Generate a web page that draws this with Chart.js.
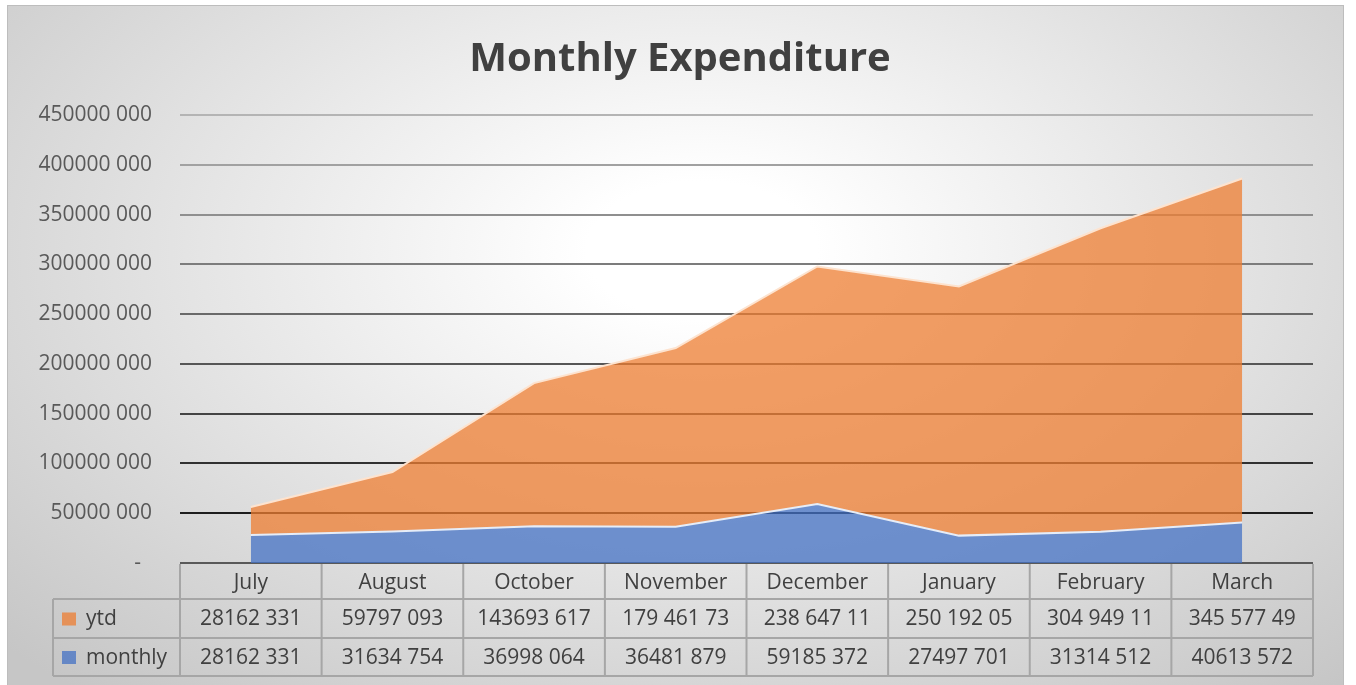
<!DOCTYPE html>
<html>
<head>
<meta charset="utf-8">
<script src="https://cdn.jsdelivr.net/npm/chart.js@4.4.1/dist/chart.umd.min.js"></script>
<style>
  html, body { margin: 0; padding: 0; background: #fff; }
  #box {
    position: absolute; left: 7px; top: 5px; width: 1337px; height: 680px;
    box-sizing: border-box; border: 1px solid #bdbdbd; border-bottom: none;
    background: radial-gradient(ellipse 72% 85% at 52% 36%, #ffffff 0%, #ffffff 12%, #c6c6c6 100%);
  }
  #box canvas { position: absolute; left: -1px; top: -1px; }
</style>
</head>
<body>
<div id="box"><canvas id="chart" width="1337" height="680"></canvas></div>
<script>
const months = ['July', 'August', 'October', 'November', 'December', 'January', 'February', 'March'];
const monthly = [28162331, 31634754, 36998064, 36481879, 59185372, 27497701, 31314512, 40613572];
const ytd = [28162331, 59797093, 143693617, 179461730, 238647110, 250192050, 304949110, 345577490];
// table text as shown (ytd cells are clipped in the original)
const ytdText = ['28162 331', '59797 093', '143693 617', '179 461 73', '238 647 11', '250 192 05', '304 949 11', '345 577 49'];
const yTicks = { min: 0, max: 450000000, step: 50000000 };

const FONT = 'Open Sans';
const ORANGE = 'rgba(237,125,49,0.75)';
const BLUE = 'rgba(68,114,196,0.75)';

function fmt(v) {
  if (v === 0) return '-  ';
  return Math.floor(v / 1000) + ' ' + String(v % 1000).padStart(3, '0');
}

function gridColor(ctx) {
  const v = ctx.tick.value;
  if (v === 0) return '#595959';
  const c = Math.round(30 + (v - 50000000) / 400000000 * 150);
  return `rgb(${c},${c},${c})`;
}

const tablePlugin = {
  id: 'dataTable',
  afterDraw(chart) {
    const { ctx } = chart;
    const x = chart.scales.x;
    const n = months.length;
    const w = (x.right - x.left) / n;
    const top = chart.chartArea.bottom;
    const r1 = top + 36, r2 = r1 + 39, r3 = r2 + 38;
    const legLeft = 46;

    ctx.save();
    ctx.strokeStyle = '#a6a6a6';
    ctx.lineWidth = 2;
    ctx.beginPath();
    for (let i = 0; i <= n; i++) {
      const px = x.left + i * w;
      ctx.moveTo(px, top + 1); ctx.lineTo(px, r3);
    }
    ctx.moveTo(legLeft, r1); ctx.lineTo(legLeft, r3);
    [r1, r2, r3].forEach((ry) => { ctx.moveTo(legLeft, ry); ctx.lineTo(x.right, ry); });
    ctx.stroke();

    ctx.font = `21px "${FONT}"`;
    ctx.fillStyle = '#404040';
    ctx.textBaseline = 'middle';
    ctx.textAlign = 'center';
    const rows = [
      { label: 'ytd', color: ORANGE, cells: ytdText, y: (r1 + r2) / 2 },
      { label: 'monthly', color: BLUE, cells: monthly.map(fmt), y: (r2 + r3) / 2 },
    ];
    rows.forEach((row) => {
      row.cells.forEach((t, i) => {
        ctx.fillText(t, x.getPixelForValue(i), row.y + 1);
      });
    });
    ctx.textAlign = 'left';
    rows.forEach((row) => {
      ctx.fillStyle = row.color;
      ctx.fillRect(55, row.y - 6, 14, 13);
      ctx.fillStyle = '#404040';
      ctx.fillText(row.label, 79, row.y + 1);
    });
    ctx.restore();
  },
};

new Chart(document.getElementById('chart'), {
  type: 'line',
  data: {
    labels: months,
    datasets: [
      {
        label: 'monthly',
        data: monthly,
        backgroundColor: BLUE,
        borderColor: '#e6edf8',
        borderWidth: 2,
        fill: 'origin',
        pointRadius: 0,
        tension: 0,
      },
      {
        label: 'ytd',
        data: ytd,
        backgroundColor: ORANGE,
        borderColor: '#fde3cf',
        borderWidth: 2,
        fill: '-1',
        pointRadius: 0,
        tension: 0,
      },
    ],
  },
  options: {
    responsive: false,
    animation: false,
    layout: { padding: { left: 9, right: 0, top: 0, bottom: 0 } },
    plugins: {
      legend: { display: false },
      tooltip: { enabled: false },
      title: {
        display: true,
        text: 'Monthly Expenditure',
        color: '#404040',
        font: { family: FONT, size: 40, weight: 'bold' },
        padding: { top: 31, bottom: 31 },
      },
    },
    scales: {
      x: {
        offset: true,
        grid: { display: false },
        border: { display: false },
        ticks: { color: '#404040', font: { family: FONT, size: 21 }, padding: -1, maxRotation: 0 },
        afterFit: (s) => { s.height = 122; },
      },
      y: {
        stacked: true,
        min: yTicks.min,
        max: yTicks.max,
        border: { display: false },
        grid: { color: gridColor, lineWidth: 2, drawTicks: false },
        ticks: {
          stepSize: yTicks.step,
          color: '#595959',
          font: { family: FONT, size: 21 },
          padding: 28,
          callback: (v) => fmt(v),
        },
        afterFit: (s) => { s.width = 164; },
      },
      // empty right-hand gutter so the title stays centred on the full box
      gutter: {
        type: 'linear',
        position: 'right',
        display: true,
        grid: { display: false },
        border: { display: false },
        ticks: { display: false },
        afterFit: (s) => { s.width = 31; },
      },
    },
  },
  plugins: [tablePlugin],
});
</script>
</body>
</html>
